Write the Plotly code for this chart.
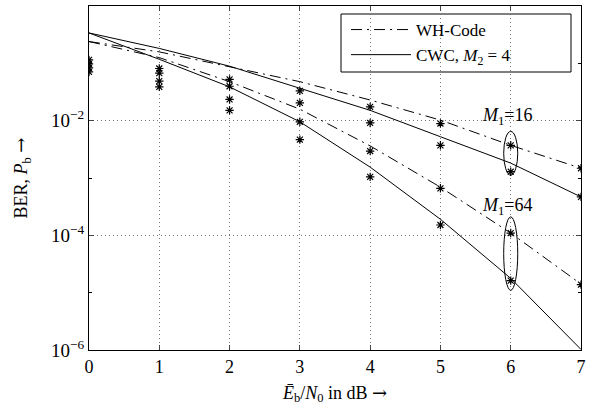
import plotly.graph_objects as go

# ---------------- data ----------------
snr_db = [0, 1, 2, 3, 4, 5, 6, 7]

# analytic curves (BER)
wh_16  = [10**-0.62, 10**-0.80, 10**-1.06, 10**-1.32, 10**-1.64, 10**-1.99, 10**-2.43, 10**-2.83]
cwc_16 = [10**-0.47, 10**-0.74, 10**-1.05, 10**-1.44, 10**-1.82, 10**-2.28, 10**-2.74, 10**-3.33]
wh_64  = [10**-0.62, 10**-0.90, 10**-1.32, 10**-1.80, 10**-2.44, 10**-3.16, 10**-3.96, 10**-4.85]
cwc_64 = [10**-0.47, 10**-0.93, 10**-1.41, 10**-2.02, 10**-2.81, 10**-3.72, 10**-4.75, 10**-5.99]

# simulation points (stars)
sim_x_a = [0, 1, 2, 3, 4, 5, 6, 7]
sim_wh_16  = [10**-0.94, 10**-1.09, 10**-1.28, 10**-1.48, 10**-1.76, 10**-2.05, 10**-2.43, 10**-2.83]
sim_cwc_16 = [10**-1.01, 10**-1.17, 10**-1.40, 10**-1.69, 10**-2.04, 10**-2.43, 10**-2.89, 10**-3.33]
sim_wh_64  = [10**-1.08, 10**-1.31, 10**-1.63, 10**-2.02, 10**-2.53, 10**-3.18, 10**-3.96, 10**-4.86]
sim_x_b = [0, 1, 2, 3, 4, 5, 6]
sim_cwc_64 = [10**-1.15, 10**-1.41, 10**-1.82, 10**-2.33, 10**-2.98, 10**-3.82, 10**-4.79]

legend_labels = ["WH-Code", "CWC, <i>M</i><sub>2</sub> = 4"]
y_tickvals = [1e0, 1e-2, 1e-4, 1e-6]
y_ticktext = ["10<sup>0</sup>", "10<sup>\u22122</sup>", "10<sup>\u22124</sup>", "10<sup>\u22126</sup>"]
y_minor_vals = [1e-1, 1e-3, 1e-5]
x_tickvals = [0, 1, 2, 3, 4, 5, 6, 7]

FONT = "Liberation Serif"
DASHDOT = "11px,5px,2px,5px"
GRIDDASH = "1px,3px"
ARROW = "<span style='font-family:DejaVu Serif'>\u2192</span>"

fig = go.Figure()

line_black = dict(color="black", width=1)
fig.add_trace(go.Scatter(x=snr_db, y=wh_16, mode="lines", name=legend_labels[0],
                         line=dict(color="black", width=1, dash=DASHDOT), showlegend=True))
fig.add_trace(go.Scatter(x=snr_db, y=cwc_16, mode="lines", name=legend_labels[1],
                         line=line_black, showlegend=True))
fig.add_trace(go.Scatter(x=snr_db, y=wh_64, mode="lines", name="WH 64",
                         line=dict(color="black", width=1, dash=DASHDOT), showlegend=False))
fig.add_trace(go.Scatter(x=snr_db, y=cwc_64, mode="lines", name="CWC 64",
                         line=line_black, showlegend=False))

star = dict(symbol="asterisk-open", size=7, color="black", line=dict(color="black", width=1.2))
for xs, ys in [(sim_x_a, sim_wh_16), (sim_x_a, sim_cwc_16), (sim_x_a, sim_wh_64), (sim_x_b, sim_cwc_64)]:
    fig.add_trace(go.Scatter(x=xs, y=ys, mode="markers", marker=star, showlegend=False,
                             hoverinfo="skip"))

# ellipses around the M1 groups at 6 dB
fig.add_shape(type="circle", xref="x", yref="y", x0=5.9, x1=6.1, y0=1.12e-3, y1=6.5e-3,
              line=dict(color="black", width=1))
fig.add_shape(type="circle", xref="x", yref="y", x0=5.9, x1=6.1, y0=1.1e-5, y1=2.1e-4,
              line=dict(color="black", width=1))

fig.add_annotation(x=5.95, y=-1.93, xref="x", yref="y", text="<i>M</i><sub>1</sub>=16",
                   showarrow=False, font=dict(family=FONT, size=18, color="black"))
fig.add_annotation(x=5.95, y=-3.49, xref="x", yref="y", text="<i>M</i><sub>1</sub>=64",
                   showarrow=False, font=dict(family=FONT, size=18, color="black"))

# legend frame
fig.add_shape(type="rect", xref="paper", yref="paper",
              x0=(341 - 89) / 492, x1=(571 - 89) / 492,
              y0=1 - (72 - 6) / 344, y1=1 - (14 - 6) / 344,
              line=dict(color="black", width=1), fillcolor="white", layer="below")

fig.update_layout(
    width=591, height=413,
    margin=dict(l=89, r=10, t=6, b=63),
    plot_bgcolor="white", paper_bgcolor="white",
    font=dict(family=FONT, size=16, color="black"),
    showlegend=True,
    legend=dict(x=(346 - 89) / 492, y=1 - (12 - 6) / 344, xanchor="left", yanchor="top",
                bgcolor="rgba(0,0,0,0)", borderwidth=0, itemwidth=60,
                font=dict(family=FONT, size=17, color="black"), tracegroupgap=0),
    xaxis=dict(range=[0, 7], tickvals=x_tickvals, ticks="inside", ticklen=5,
               showline=True, linecolor="black", linewidth=1, mirror="ticks",
               showgrid=True, gridcolor="#777777", griddash=GRIDDASH, gridwidth=1,
               zeroline=False, tickfont=dict(family=FONT, size=18),
               title=dict(text="<i>\u0112</i><sub>b</sub>/<i>N</i><sub>0</sub> in dB " + ARROW,
                          font=dict(family=FONT, size=18), standoff=10)),
    yaxis=dict(type="log", range=[-6, 0], tickvals=y_tickvals, ticktext=y_ticktext,
               ticks="inside", ticklen=5,
               showline=True, linecolor="black", linewidth=1, mirror="ticks",
               showgrid=True, gridcolor="#777777", griddash=GRIDDASH, gridwidth=1,
               zeroline=False, tickfont=dict(family=FONT, size=19),
               minor=dict(tickvals=y_minor_vals, ticks="inside", ticklen=3, showgrid=False,
                          tickcolor="black"),
               title=dict(text="BER, <i>P</i><sub>b</sub> " + ARROW,
                          font=dict(family=FONT, size=18), standoff=18)),
)

fig.write_html("out.html")
